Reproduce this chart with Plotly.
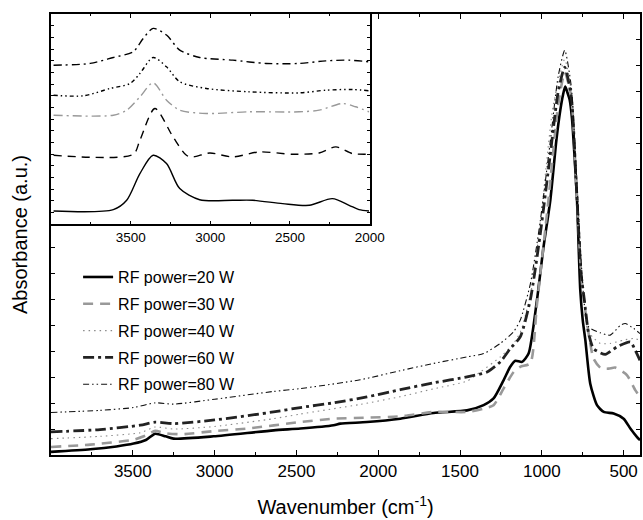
import plotly.graph_objects as go

# ---------------- main spectra (wavenumber, absorbance a.u.) ----------------
wn_20 = [4000, 3760, 3600, 3495, 3420, 3363, 3300, 3251, 3006, 2639, 2476, 2273, 2232, 2069, 1865,
         1662, 1457, 1356, 1295, 1234, 1193, 1162, 1121, 1081, 1030, 990, 948, 910, 887, 870, 857,
         845, 830, 816, 800, 785, 765, 750, 734, 704, 663, 622, 561, 500, 459, 418, 400]
ab_20 = [0.12, 0.22, 0.33, 0.44, 0.58, 0.82, 0.72, 0.63, 0.72, 0.95, 1.02, 1.15, 1.21, 1.27, 1.40,
         1.62, 1.72, 1.92, 2.18, 2.88, 3.40, 3.63, 3.59, 3.91, 5.97, 8.0, 9.83, 12.2, 13.3, 13.9, 14.2,
         14.0, 13.7, 13.0, 11.5, 9.83, 6.35, 5.2, 4.43, 2.75, 1.92, 1.66, 1.60, 1.40, 1.02, 0.69, 0.57]

wn_30 = [4000, 3760, 3495, 3420, 3363, 3300, 3200, 3006, 2800, 2476, 2273, 2069, 1865, 1662, 1457,
         1356, 1295, 1234, 1172, 1132, 1071, 1030, 960, 900, 860, 820, 790, 760, 745, 714, 684, 640,
         592, 551, 480, 429, 400]
ab_30 = [0.31, 0.40, 0.59, 0.75, 0.93, 0.84, 0.80, 0.92, 1.02, 1.27, 1.40, 1.44, 1.49, 1.66, 1.66,
         1.79, 1.92, 2.56, 3.20, 3.40, 3.53, 5.8, 9.8, 13.5, 14.75, 13.8, 10.5, 7.0, 6.1, 4.68, 3.72, 3.35,
         3.33, 3.37, 3.08, 2.50, 2.24]

wn_40 = [4000, 3700, 3454, 3363, 3250, 3000, 2640, 2476, 2110, 1865, 1662, 1457, 1376, 1254, 1173,
         1127, 1060, 1000, 930, 860, 820, 790, 760, 720, 690, 643, 582, 500, 439, 400]
ab_40 = [0.63, 0.72, 0.86, 1.08, 1.00, 1.10, 1.40, 1.58, 1.95, 2.25, 2.55, 2.85, 3.20, 3.78, 4.30,
         4.8, 6.5, 9.5, 13.5, 15.25, 14.0, 11.0, 7.5, 4.8, 4.55, 4.30, 4.30, 4.43, 4.49, 4.43]

wn_60 = [4000, 3700, 3454, 3363, 3250, 3000, 2640, 2476, 2273, 2069, 1865, 1662, 1457, 1335, 1254,
         1193, 1132, 1070, 1010, 950, 900, 860, 820, 790, 760, 740, 714, 684, 612, 541, 459, 429, 400]
ab_60 = [0.89, 0.98, 1.15, 1.27, 1.21, 1.35, 1.66, 1.83, 2.01, 2.24, 2.52, 2.78, 3.01, 3.20, 3.59,
         4.10, 4.55, 6.0, 8.5, 11.5, 14.0, 14.95, 13.8, 10.5, 7.0, 5.97, 4.68, 4.10, 3.88, 4.17, 4.36, 4.04, 3.65]

wn_80 = [4000, 3700, 3495, 3363, 3250, 3000, 2640, 2476, 2110, 1865, 1662, 1457, 1356, 1254, 1173,
         1132, 1070, 1010, 950, 900, 860, 820, 790, 760, 740, 714, 643, 582, 520, 490, 439, 400]
ab_80 = [1.64, 1.72, 1.83, 2.01, 1.96, 2.15, 2.45, 2.56, 2.90, 3.25, 3.53, 3.78, 3.91, 4.30, 4.75,
         5.2, 6.6, 9.0, 12.0, 14.6, 15.6, 14.2, 11.0, 7.5, 5.8, 4.94, 4.71, 4.62, 5.00, 5.07, 4.88, 4.68]

# ---------------- inset spectra (4000-2000 cm-1, offset) ----------------
iwn_a = [3984, 3609, 3525, 3442, 3359, 3275, 3192, 3067, 2859, 2734, 2546, 2379, 2234, 2129, 2067, 2004]
iab_a = [1.14, 1.26, 2.06, 4.34, 5.91, 5.20, 3.06, 2.11, 2.06, 2.06, 1.77, 1.63, 2.20, 1.63, 1.26, 1.14]

iwn_b = [3984, 3484, 3442, 3348, 3234, 3150, 3109, 3004, 2859, 2692, 2484, 2317, 2212, 2109, 2004]
iab_b = [5.91, 6.00, 7.20, 9.91, 7.48, 5.91, 5.77, 6.11, 5.77, 6.20, 6.00, 6.11, 6.63, 6.06, 6.00]

iwn_c = [3984, 3609, 3525, 3442, 3359, 3275, 3192, 3025, 2754, 2442, 2317, 2171, 2088, 2004]
iab_c = [9.34, 9.34, 9.77, 10.91, 12.11, 10.63, 9.77, 9.49, 9.63, 9.63, 9.77, 10.34, 10.06, 9.63]

iwn_d = [3984, 3796, 3629, 3504, 3442, 3359, 3275, 3192, 3025, 2754, 2442, 2275, 2109, 2004]
iab_d = [11.05, 11.00, 11.63, 12.05, 12.91, 14.28, 13.48, 12.20, 11.63, 11.34, 11.25, 11.48, 11.54, 11.43]

iwn_e = [3984, 3754, 3609, 3484, 3421, 3359, 3275, 3192, 3067, 2859, 2650, 2442, 2275, 2129, 2004]
iab_e = [13.62, 13.77, 14.28, 14.77, 15.91, 16.77, 16.20, 14.91, 14.28, 14.05, 13.77, 13.77, 13.99, 14.05, 13.91]

legend_names = ["RF power=20 W", "RF power=30 W", "RF power=40 W", "RF power=60 W", "RF power=80 W"]
x_ticks = [3500, 3000, 2500, 2000, 1500, 1000, 500]
inset_ticks = [3500, 3000, 2500, 2000]

FONT = "Liberation Sans, Arial, sans-serif"

fig = go.Figure()

main_styles = [
    dict(color="black", width=2.6, dash="solid"),
    dict(color="#999999", width=2.6, dash="10px,7px"),
    dict(color="#8a8a8a", width=1.1, dash="1.5px,4px"),
    dict(color="#222222", width=2.8, dash="11px,4px,3px,4px"),
    dict(color="#111111", width=1.1, dash="6px,3px,1.5px,3px,1.5px,3px"),
]
main_data = [(wn_20, ab_20), (wn_30, ab_30), (wn_40, ab_40), (wn_60, ab_60), (wn_80, ab_80)]
for i, ((xs, ys), st, nm) in enumerate(zip(main_data, main_styles, legend_names)):
    fig.add_trace(go.Scatter(x=xs, y=ys, mode="lines", name=nm, legendgroup=f"g{i}",
                             line=dict(shape="spline", smoothing=0.6, **st),
                             xaxis="x", yaxis="y"))

inset_styles = [
    dict(color="black", width=1.4, dash="solid"),
    dict(color="black", width=1.4, dash="8px,6px"),
    dict(color="#999999", width=1.4, dash="9px,4px,2px,4px"),
    dict(color="black", width=1.4, dash="4px,3px,1.5px,3px,1.5px,3px"),
    dict(color="black", width=1.4, dash="8px,4px,2px,4px"),
]
inset_data = [(iwn_a, iab_a), (iwn_b, iab_b), (iwn_c, iab_c), (iwn_d, iab_d), (iwn_e, iab_e)]
for (xs, ys), st in zip(inset_data, inset_styles):
    fig.add_trace(go.Scatter(x=xs, y=ys, mode="lines", showlegend=False,
                             line=dict(shape="spline", smoothing=0.8, **st),
                             xaxis="x2", yaxis="y2"))

axis_common = dict(showline=True, linecolor="black", linewidth=1.5, mirror="allticks",
                   ticks="inside", tickcolor="black", showgrid=False, zeroline=False,
                   automargin=False)

fig.update_layout(
    width=643, height=520,
    margin=dict(l=51, r=3, t=14, b=65, autoexpand=False),
    paper_bgcolor="white", plot_bgcolor="white",
    font=dict(family=FONT, color="black"),
    xaxis=dict(range=[4000, 400], tickvals=x_ticks, ticklen=5, tickwidth=1.2,
               minor=dict(dtick=250, tick0=0, ticks="inside", ticklen=3, tickcolor="black"),
               tickfont=dict(size=17, family=FONT),
               title=dict(text="Wavenumber (cm<sup>-1</sup>)", font=dict(size=20, family=FONT), standoff=20),
               **axis_common),
    yaxis=dict(range=[0, 17], dtick=1, ticklen=4, showticklabels=False,
               title=dict(text="Absorbance (a.u.)", font=dict(size=20, family=FONT), standoff=16),
               **axis_common),
    xaxis2=dict(domain=[0, 0.541], anchor="y2", range=[4000, 2000], tickvals=inset_ticks,
                ticklen=4, minor=dict(dtick=250, tick0=0, ticks="inside", ticklen=2.5, tickcolor="black"),
                tickfont=dict(size=13.5, family=FONT), **axis_common),
    yaxis2=dict(domain=[0.523, 1], anchor="x2", range=[0, 18], dtick=1, ticklen=3,
                showticklabels=False, **axis_common),
    legend=dict(x=0.046, y=0.442, xanchor="left", yanchor="top", bgcolor="rgba(0,0,0,0)",
                font=dict(size=16, family=FONT), tracegroupgap=3, borderwidth=0),
)

fig.write_html("out.html")
